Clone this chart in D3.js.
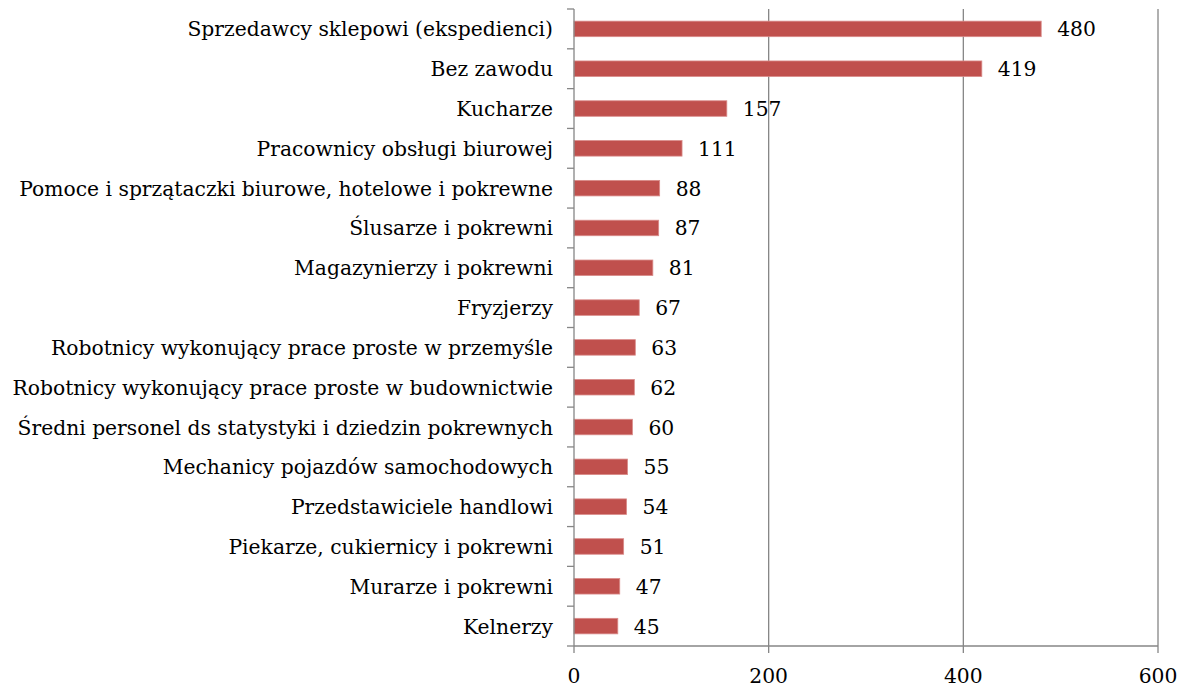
<!DOCTYPE html>
<html>
<head>
<meta charset="utf-8">
<script src="https://cdn.jsdelivr.net/npm/d3@7"></script>
<style>
  body { margin: 0; background: #fff; }
  svg text { font-family: "DejaVu Serif", "Liberation Serif", serif; fill: #000; }
</style>
</head>
<body>
<svg id="chart" width="1189" height="691"></svg>
<script>
// Occupations and counts, top to bottom
const categories = [
  "Sprzedawcy sklepowi (ekspedienci)",
  "Bez zawodu",
  "Kucharze",
  "Pracownicy obsługi biurowej",
  "Pomoce i sprzątaczki biurowe, hotelowe i pokrewne",
  "Ślusarze i pokrewni",
  "Magazynierzy i pokrewni",
  "Fryzjerzy",
  "Robotnicy wykonujący prace proste w przemyśle",
  "Robotnicy wykonujący prace proste w budownictwie",
  "Średni personel ds statystyki i dziedzin pokrewnych",
  "Mechanicy pojazdów samochodowych",
  "Przedstawiciele handlowi",
  "Piekarze, cukiernicy i pokrewni",
  "Murarze i pokrewni",
  "Kelnerzy"
];
const values = [480, 419, 157, 111, 88, 87, 81, 67, 63, 62, 60, 55, 54, 51, 47, 45];
const xTicks = [0, 200, 400, 600];

const svg = d3.select("#chart");
const margin = { left: 574, right: 31, top: 9, bottom: 45 };
const W = 1189, H = 691;
const fontSize = 20.3;
const axisColor = "#868686";

const x = d3.scaleLinear().domain([0, 600]).range([margin.left, W - margin.right]);
const y = d3.scaleBand().domain(categories).range([margin.top, H - margin.bottom]).paddingInner(0.61).paddingOuter(0.305);
const yEdges = d3.scaleLinear().domain([0, categories.length]).range([margin.top, H - margin.bottom]);

// Vertical gridlines (skip zero, which is the axis itself)
svg.append("g")
  .selectAll("line")
  .data(xTicks.filter(d => d !== 0))
  .join("line")
  .attr("x1", d => x(d)).attr("x2", d => x(d))
  .attr("y1", margin.top).attr("y2", H - margin.bottom)
  .attr("stroke", axisColor).attr("stroke-width", 1.3);

// Bars
svg.append("g")
  .selectAll("rect")
  .data(values)
  .join("rect")
  .attr("x", x(0))
  .attr("y", (d, i) => y(categories[i]))
  .attr("width", d => x(d) - x(0))
  .attr("height", y.bandwidth())
  .attr("fill", "#C0504D")
  .attr("stroke", "#D98B89").attr("stroke-width", 0.8);

// Value labels
svg.append("g")
  .selectAll("text")
  .data(values)
  .join("text")
  .attr("x", d => x(d) + 16)
  .attr("y", (d, i) => y(categories[i]) + y.bandwidth() / 2)
  .attr("dy", "0.37em")
  .attr("font-size", fontSize)
  .text(d => d);

// Y axis: line, category boundary ticks and labels
const yAxis = svg.append("g");
yAxis.append("line")
  .attr("x1", x(0)).attr("x2", x(0))
  .attr("y1", margin.top).attr("y2", H - margin.bottom)
  .attr("stroke", axisColor).attr("stroke-width", 1.3);
yAxis.selectAll("line.tick")
  .data(d3.range(categories.length + 1))
  .join("line")
  .attr("class", "tick")
  .attr("x1", x(0) - 7).attr("x2", x(0))
  .attr("y1", d => yEdges(d)).attr("y2", d => yEdges(d))
  .attr("stroke", axisColor).attr("stroke-width", 1.3);
yAxis.selectAll("text")
  .data(categories)
  .join("text")
  .attr("x", x(0) - 21)
  .attr("y", d => y(d) + y.bandwidth() / 2)
  .attr("dy", "0.37em")
  .attr("text-anchor", "end")
  .attr("font-size", fontSize)
  .text(d => d);

// X axis
const xAxis = svg.append("g");
xAxis.append("line")
  .attr("x1", x(0)).attr("x2", x(600))
  .attr("y1", H - margin.bottom).attr("y2", H - margin.bottom)
  .attr("stroke", axisColor).attr("stroke-width", 1.3);
xAxis.selectAll("line.tick")
  .data(xTicks)
  .join("line")
  .attr("class", "tick")
  .attr("x1", d => x(d)).attr("x2", d => x(d))
  .attr("y1", H - margin.bottom).attr("y2", H - margin.bottom + 7)
  .attr("stroke", axisColor).attr("stroke-width", 1.3);
xAxis.selectAll("text")
  .data(xTicks)
  .join("text")
  .attr("x", d => x(d))
  .attr("y", H - margin.bottom + 37)
  .attr("text-anchor", "middle")
  .attr("font-size", fontSize)
  .text(d => d);
</script>
</body>
</html>
